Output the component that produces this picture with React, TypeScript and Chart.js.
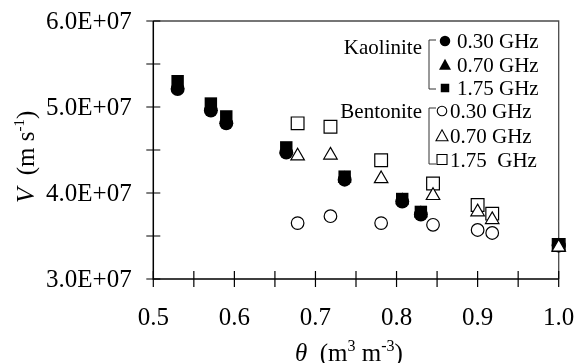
import React, { useEffect, useRef } from "react";
import { Chart, registerables } from "chart.js";

Chart.register(...registerables);

// ---- data ----
const thetaKaolinite = [0.53, 0.571, 0.59, 0.664, 0.736, 0.807, 0.83, 1.0];
const kaolinite030 = [5.21e7, 4.96e7, 4.81e7, 4.47e7, 4.155e7, 3.9e7, 3.75e7, 3.39e7];
const kaolinite070 = [5.26e7, 5.0e7, 4.85e7, 4.5e7, 4.17e7, 3.915e7, 3.765e7, 3.39e7];
const kaolinite175 = [5.3e7, 5.04e7, 4.89e7, 4.53e7, 4.19e7, 3.93e7, 3.78e7, 3.395e7];

const thetaBentonite = [0.678, 0.7185, 0.781, 0.845, 0.9, 0.918, 1.0];
const bentonite030 = [3.65e7, 3.73e7, 3.65e7, 3.63e7, 3.57e7, 3.535e7, 3.39e7];
const bentonite070 = [4.43e7, 4.44e7, 4.165e7, 3.97e7, 3.78e7, 3.69e7, 3.37e7];
const bentonite175 = [4.81e7, 4.77e7, 4.38e7, 4.11e7, 3.86e7, 3.76e7, 3.395e7];

const xMin = 0.5;
const xMax = 1.0;
const xMinorStep = 0.05;
const yMin = 3e7;
const yMax = 6e7;
const yMinorStep = 5e6;

const groupNames = ["Kaolinite", "Bentonite"];
const kaoliniteLabels = ["0.30 GHz", "0.70 GHz", "1.75 GHz"];
const bentoniteLabels = ["0.30 GHz", "0.70 GHz", "1.75  GHz"];

const SERIF = "'Liberation Serif', 'Times New Roman', serif";

const zip = (xs: number[], ys: number[]) => xs.map((x, i) => ({ x, y: ys[i] }));

function drawRich(
  ctx: CanvasRenderingContext2D,
  x: number,
  y: number,
  segs: { t: string; italic?: boolean; size?: number; dy?: number }[],
  base: number
) {
  let cx = x;
  for (const s of segs) {
    const size = s.size ?? base;
    ctx.font = `${s.italic ? "italic " : ""}${size}px ${SERIF}`;
    ctx.fillText(s.t, cx, y + (s.dy ?? 0));
    cx += ctx.measureText(s.t).width;
  }
}

function shape(
  ctx: CanvasRenderingContext2D,
  kind: string,
  x: number,
  y: number,
  size: number,
  filled: boolean
) {
  ctx.beginPath();
  if (kind === "circle") {
    ctx.arc(x, y, size / 2, 0, Math.PI * 2);
  } else if (kind === "triangle") {
    const h = (size * Math.sqrt(3)) / 2;
    ctx.moveTo(x, y - h / 2 - 0.5);
    ctx.lineTo(x + size / 2, y + h / 2);
    ctx.lineTo(x - size / 2, y + h / 2);
    ctx.closePath();
  } else {
    ctx.rect(x - size / 2, y - size / 2, size, size);
  }
  if (filled) {
    ctx.fillStyle = "#000";
    ctx.fill();
  } else {
    ctx.fillStyle = "#fff";
    ctx.fill();
    ctx.lineWidth = 1.1;
    ctx.strokeStyle = "#000";
    ctx.stroke();
  }
}

const framePlugin = {
  id: "frame",
  beforeDatasetsDraw(chart: any) {
    const ctx: CanvasRenderingContext2D = chart.ctx;
    const { left, right, top, bottom } = chart.chartArea;
    const xs = chart.scales.x;
    const ys = chart.scales.y;
    ctx.save();
    ctx.strokeStyle = "#4a4a4a";
    ctx.lineWidth = 1.3;
    ctx.beginPath();
    ctx.moveTo(left, top);
    ctx.lineTo(right, top);
    ctx.lineTo(right, bottom);
    ctx.stroke();

    ctx.strokeStyle = "#000";
    ctx.lineWidth = 1.5;
    ctx.beginPath();
    ctx.moveTo(left, top);
    ctx.lineTo(left, bottom);
    ctx.lineTo(right, bottom);
    ctx.stroke();

    ctx.lineWidth = 1.2;
    ctx.beginPath();
    for (let v = yMin; v <= yMax + 1; v += yMinorStep) {
      const y = ys.getPixelForValue(v);
      ctx.moveTo(left - 7, y);
      ctx.lineTo(left + 7, y);
    }
    for (let i = 0; i <= Math.round((xMax - xMin) / xMinorStep); i++) {
      const x = xs.getPixelForValue(xMin + i * xMinorStep);
      ctx.moveTo(x, bottom - 8);
      ctx.lineTo(x, bottom + 8);
    }
    ctx.stroke();
    ctx.restore();
  },
  afterDraw(chart: any) {
    const ctx: CanvasRenderingContext2D = chart.ctx;
    ctx.save();
    ctx.fillStyle = "#000";
    ctx.textBaseline = "alphabetic";
    ctx.textAlign = "left";

    // x title
    drawRich(
      ctx,
      295,
      361,
      [
        { t: "θ", italic: true },
        { t: "  (m" },
        { t: "3", size: 16, dy: -10 },
        { t: " m" },
        { t: "-3", size: 16, dy: -10 },
        { t: ")" },
      ],
      25
    );

    // y title
    ctx.save();
    ctx.translate(34, 203);
    ctx.rotate(-Math.PI / 2);
    drawRich(
      ctx,
      0,
      0,
      [
        { t: "V", italic: true },
        { t: "  (m s" },
        { t: "-1", size: 15, dy: -10.5 },
        { t: ")" },
      ],
      25
    );
    ctx.restore();

    // legend
    const bx = 429;
    const groups = [
      { name: groupNames[0], rows: [41, 64.5, 88], br: [40, 89], labels: kaoliniteLabels, filled: true, mx: 445, tx: 457, nameY: 54 },
      { name: groupNames[1], rows: [111, 135.5, 159.5], br: [108, 164], labels: bentoniteLabels, filled: false, mx: 442, tx: 450, nameY: 118 },
    ];
    const kinds = ["circle", "triangle", "square"];
    for (const g of groups) {
      ctx.strokeStyle = "#333";
      ctx.lineWidth = 1;
      ctx.beginPath();
      ctx.moveTo(bx + 7, g.br[0]);
      ctx.lineTo(bx, g.br[0]);
      ctx.lineTo(bx, g.br[1]);
      ctx.lineTo(bx + 7, g.br[1]);
      ctx.stroke();

      ctx.font = `21px ${SERIF}`;
      ctx.fillStyle = "#000";
      ctx.textAlign = "right";
      ctx.fillText(g.name, 422, g.nameY);
      ctx.textAlign = "left";
      g.rows.forEach((ry, i) => {
        const k = kinds[i];
        const sz = g.filled
          ? k === "circle" ? 10.5 : k === "triangle" ? 12 : 8.5
          : k === "circle" ? 9.5 : k === "triangle" ? 12 : 10;
        shape(ctx, k, g.mx, ry, sz, g.filled);
        ctx.fillStyle = "#000";
        ctx.font = `21px ${SERIF}`;
        ctx.fillText(g.labels[i], g.tx, ry + 7);
      });
    }
    ctx.restore();
  },
};

export default function App() {
  const ref = useRef<HTMLCanvasElement | null>(null);

  useEffect(() => {
    if (!ref.current) return;
    const filled = { backgroundColor: "#000", borderColor: "#000", borderWidth: 0, showLine: false, clip: false as any };
    const open = { backgroundColor: "#fff", borderColor: "#000", borderWidth: 1.2, showLine: false, clip: false as any };
    const chart = new Chart(ref.current, {
      type: "scatter",
      data: {
        datasets: [
          { label: "Bentonite 0.30 GHz", data: zip(thetaBentonite, bentonite030), pointStyle: "circle", pointRadius: 6.3, order: 6, ...open },
          { label: "Bentonite 1.75 GHz", data: zip(thetaBentonite, bentonite175), pointStyle: "rect", pointRadius: 9, order: 5, ...open },
          { label: "Kaolinite 0.30 GHz", data: zip(thetaKaolinite, kaolinite030), pointStyle: "circle", pointRadius: 7, order: 4, ...filled },
          { label: "Kaolinite 0.70 GHz", data: zip(thetaKaolinite, kaolinite070), pointStyle: "triangle", pointRadius: 8, order: 3, ...filled },
          { label: "Kaolinite 1.75 GHz", data: zip(thetaKaolinite, kaolinite175), pointStyle: "rect", pointRadius: 8.8, order: 2, ...filled },
          { label: "Bentonite 0.70 GHz", data: zip(thetaBentonite, bentonite070), pointStyle: "triangle", pointRadius: 7.8, order: 1, ...open },
        ] as any,
      },
      options: {
        animation: false,
        responsive: true,
        maintainAspectRatio: false,
        layout: { padding: { top: 21, right: 21.3, left: 0, bottom: 0 } },
        plugins: { legend: { display: false }, tooltip: { enabled: false } },
        elements: { point: { hoverRadius: 0 } as any },
        scales: {
          x: {
            type: "linear",
            min: xMin,
            max: xMax,
            grid: { display: false, drawTicks: false },
            border: { display: false },
            ticks: {
              stepSize: 0.1,
              padding: 24,
              autoSkip: false,
              maxRotation: 0,
              color: "#000",
              font: { family: SERIF, size: 25 },
              callback: (v: any) => Number(v).toFixed(1),
            },
            afterFit: (s: any) => {
              s.height = 84;
              s.paddingLeft = 0;
              s.paddingRight = 0;
            },
          },
          y: {
            type: "linear",
            min: yMin,
            max: yMax,
            grid: { display: false, drawTicks: false },
            border: { display: false },
            ticks: {
              stepSize: 1e7,
              padding: 21.6,
              labelOffset: 1,
              color: "#000",
              font: { family: SERIF, size: 25 },
              callback: (v: any) => (Number(v) / 1e7).toFixed(1) + "E+07",
            },
            afterFit: (s: any) => {
              s.width = 153.3;
              s.paddingTop = 0;
              s.paddingBottom = 0;
            },
          },
        },
      } as any,
      plugins: [framePlugin],
    });
    return () => chart.destroy();
  }, []);

  return (
    <div style={{ position: "absolute", left: 0, top: 0, width: 580, height: 363, background: "#fff" }}>
      <canvas ref={ref} />
    </div>
  );
}
